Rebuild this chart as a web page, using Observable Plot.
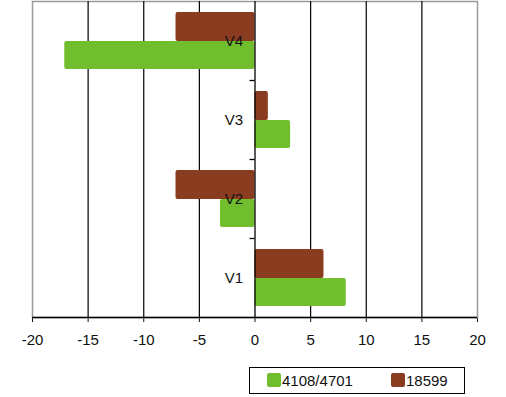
<!DOCTYPE html>
<html>
<head>
<meta charset="utf-8">
<script src="https://cdn.jsdelivr.net/npm/d3@7"></script>
<script src="https://cdn.jsdelivr.net/npm/@observablehq/plot@0.6"></script>
<style>
  html, body { margin: 0; padding: 0; background: #fff; }
  #wrap { position: relative; width: 506px; height: 397px; font-family: Arial, "Liberation Sans", Helvetica, sans-serif; }
  #legend { position: absolute; left: 249px; top: 367px; width: 214px; height: 25px; border: 1.3px solid #000; font-size: 15px; color: #111; }
  .sw { position: absolute; top: 5px; width: 14px; height: 14px; border-radius: 2px; }
  .lb { position: absolute; top: 4px; line-height: 17px; }
</style>
</head>
<body>
<div id="wrap">
  <div id="chart"></div>
  <div id="legend"></div>
</div>
<script>
const categories = ["V4", "V3", "V2", "V1"];
const seriesNames = ["4108/4701", "18599"];
const seriesColors = ["#70bd2e", "#8a3c21"];
const values4108 = [-17.1, 3.2, -3.1, 8.2];
const values18599 = [-7.1, 1.2, -7.1, 6.2];
const xTicks = [-20, -15, -10, -5, 0, 5, 10, 15, 20];
const gridValues = [-15, -10, -5, 5, 10, 15];

const rowsA = categories.map((c, i) => ({cat: c, value: values4108[i]}));
const rowsB = categories.map((c, i) => ({cat: c, value: values18599[i]}));
const band = (317 - 1) / categories.length;

const chart = Plot.plot({
  width: 506,
  height: 360,
  marginLeft: 32,
  marginRight: 29,
  marginTop: 1,
  marginBottom: 43,
  style: {fontSize: "15px", fontFamily: 'Arial, "Liberation Sans", Helvetica, sans-serif', color: "#111", background: "#fff"},
  x: {domain: [-20, 20], ticks: xTicks, tickSize: 5, tickPadding: 12, label: null, tickFormat: d => String(d)},
  y: {domain: categories, axis: null, padding: 0},
  marks: [
    Plot.frame({stroke: "#9a9a9a", strokeWidth: 1.5}),
    Plot.ruleX(gridValues, {stroke: "#000", strokeWidth: 1.2}),
    Plot.barX(rowsB, {x: "value", y: "cat", fill: seriesColors[1], insetTop: 11, insetBottom: 39, rx: 2}),
    Plot.barX(rowsA, {x: "value", y: "cat", fill: seriesColors[0], insetTop: 40, insetBottom: 11, rx: 2}),
    Plot.ruleX([0], {stroke: "#000", strokeWidth: 1.3}),
    Plot.ruleY(categories.slice(0, 3), {x1: -0.45, x2: 0, dy: band / 2, stroke: "#000", strokeWidth: 1.3}),
    Plot.ruleY(categories.slice(3), {dy: band / 2, stroke: "#000", strokeWidth: 1.5}),
    Plot.text(categories, {x: () => 0, y: d => d, dx: -12, textAnchor: "end", fontSize: 15, fill: "#111"})
  ]
});
document.getElementById("chart").appendChild(chart);

const legend = document.getElementById("legend");
const swX = [17, 141];
seriesNames.forEach((name, i) => {
  const sw = document.createElement("div");
  sw.className = "sw";
  sw.style.left = swX[i] + "px";
  sw.style.background = seriesColors[i];
  legend.appendChild(sw);
  const lb = document.createElement("div");
  lb.className = "lb";
  lb.style.left = (swX[i] + 15) + "px";
  lb.textContent = name;
  legend.appendChild(lb);
});
</script>
</body>
</html>
